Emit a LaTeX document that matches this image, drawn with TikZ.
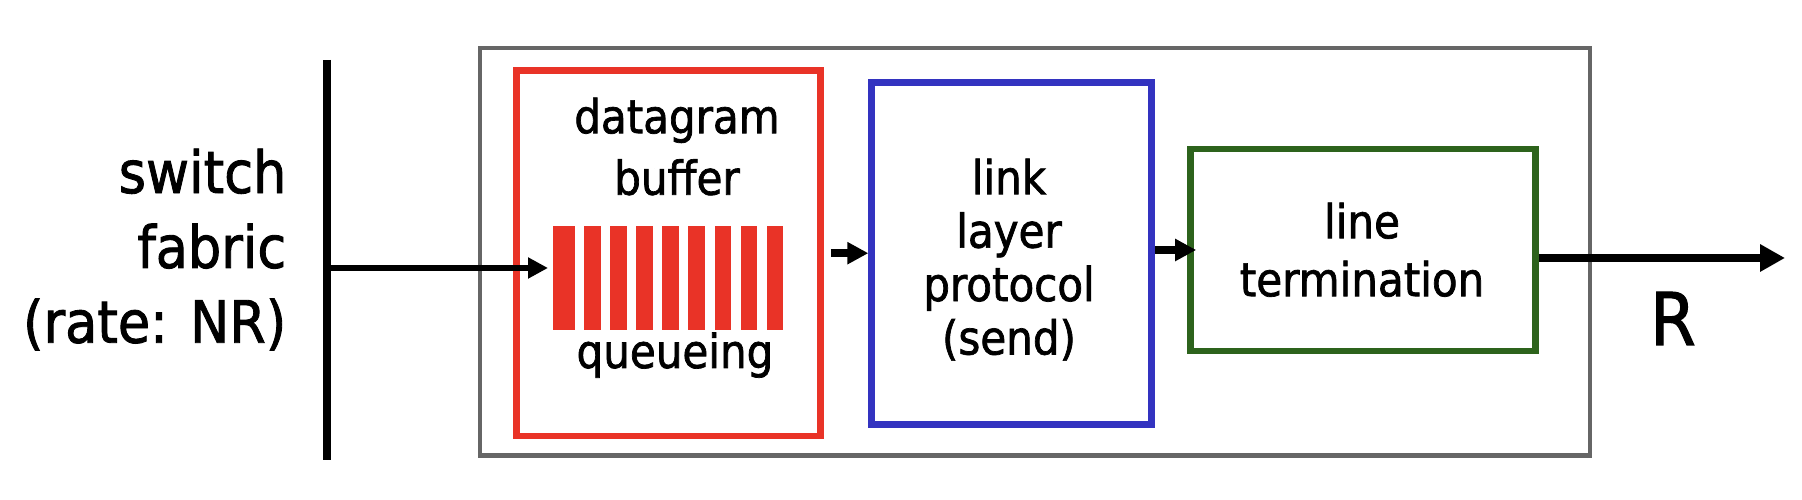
\documentclass[tikz,border=0pt]{standalone}
\usepackage{fontspec}
\setmainfont[FakeBold=1.5]{DejaVu Sans Condensed}
\usepackage{tikz}
\usetikzlibrary{arrows.meta}
\definecolor{bufred}{RGB}{233,51,39}
\definecolor{llblue}{RGB}{51,51,192}
\definecolor{ltgreen}{RGB}{45,99,28}
\definecolor{portgray}{RGB}{102,102,102}
\tikzset{blk/.style={draw,rectangle,line width=1.9pt,inner sep=0pt},
    txt/.style={inner sep=0pt,align=center,font=\fontsize{13.3pt}{15.2pt}\selectfont}}

\begin{document}
\begin{tikzpicture}[>={Triangle[length=0.21cm,width=0.21cm]}]
    \useasboundingbox (0,0) rectangle (18.02,5);
    \node[blk,draw=portgray,line width=1.3pt,minimum width=11.10cm,minimum height=4.075cm] (port) at (10.35,2.482) {};
    \node[blk,draw=bufred,minimum width=3.04cm,minimum height=3.655cm] (buf) at (6.685,2.468) {};
    \node[blk,draw=llblue,minimum width=2.80cm,minimum height=3.42cm] (llp) at (10.117,2.463) {};
    \node[blk,draw=ltgreen,minimum width=3.45cm,minimum height=2.02cm] (lt) at (13.63,2.50) {};

    \fill[bufred] (5.53,1.70) rectangle (5.75,2.74);
    \foreach \i in {1,...,8}
        \fill[bufred] (5.84+0.261*\i-0.261,1.70) rectangle ++(0.165,1.04);

    \coordinate (ftop) at (3.27,4.40);
    \coordinate (fbot) at (3.27,0.40);
    \coordinate (qin) at (5.48,2.32);
    \coordinate (rout) at (17.85,2.42);
    \draw[line width=2.2pt] (ftop) -- (fbot);
    \draw[->,line width=1.7pt,>={Triangle[length=0.2cm,width=0.2cm]}] (ftop |- qin) -- (qin);
    \draw[->,line width=2.2pt,shorten <=0.07cm] (buf.east) -- (buf.east -| llp.west);
    \draw[->,line width=2.2pt,shorten >=-0.09cm] (llp.east |- lt.west) -- (lt.west);
    \draw[->,line width=2.5pt,>={Triangle[length=0.25cm,width=0.26cm]}] (lt.east |- rout) -- (rout);

    \node[inner sep=0pt,anchor=north east,align=right,font=\fontsize{16.6pt}{21.3pt}\selectfont] (sf) at (2.87,3.52) {switch\\fabric\\(rate: NR)};
    \node[txt,anchor=north,font=\fontsize{13.3pt}{17.5pt}\selectfont] (dg) at (6.77,4.03) {datagram\\buffer};
    \node[txt,anchor=base] (qu) at (6.75,1.32) {queueing};
    \node[txt,anchor=north] (llt) at (10.09,3.42) {link\\layer\\protocol\\(send)};
    \node[txt,anchor=north,font=\fontsize{13.3pt}{16.5pt}\selectfont] (ltt) at (13.62,2.98) {line\\termination};
    \node[inner sep=0pt,anchor=base,font=\fontsize{20.7pt}{24pt}\selectfont] (r) at (16.73,1.55) {R};
\end{tikzpicture}
\end{document}
